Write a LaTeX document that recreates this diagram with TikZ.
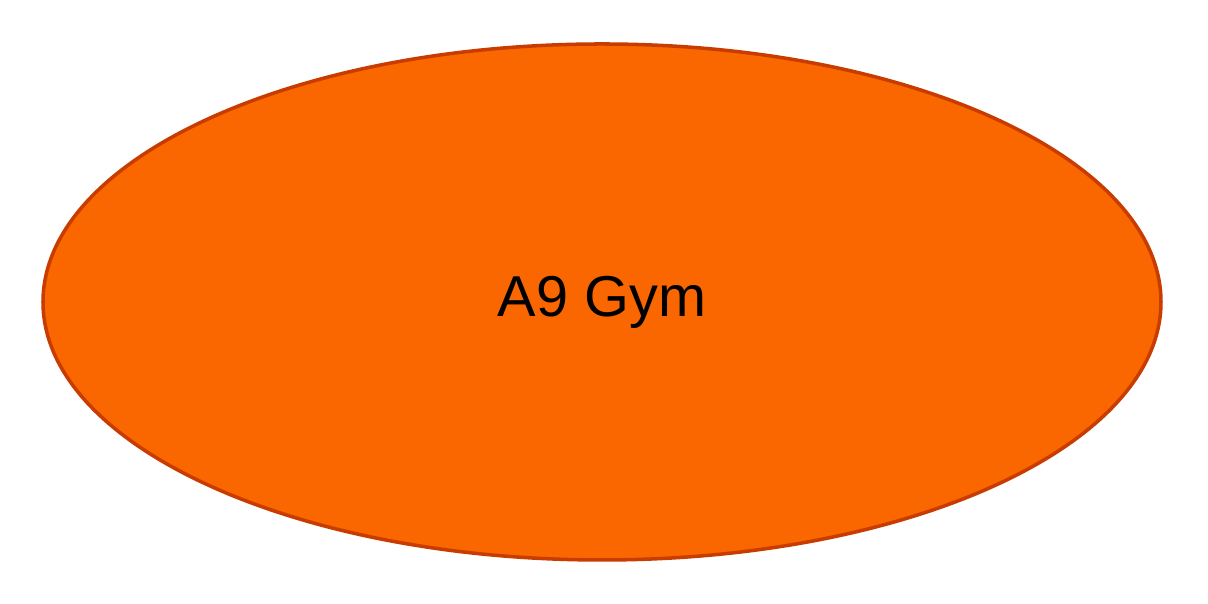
\documentclass[tikz,border=0pt]{standalone}
\usepackage{fontspec}
\setmainfont{Liberation Sans}
\usetikzlibrary{shapes.geometric}

\definecolor{gymorange}{RGB}{250,102,0}  % Fill of the ellipse
\definecolor{gymedge}{RGB}{200,60,0}     % Darker rim

\begin{document}
\begin{tikzpicture}[gym/.style={ellipse, draw=gymedge, fill=gymorange, line width=1pt, inner sep=0pt,
    minimum width=11.18cm, minimum height=5.16cm, font=\fontsize{16.4}{19}\selectfont}]

%─────────────
% Canvas
%─────────────
\useasboundingbox (0,0) rectangle (12.08,6.04);

%─────────────
% The one ellipse
%─────────────
\node[gym] (gym) at (6.02,3.02) {A9 Gym};

\end{tikzpicture}
\end{document}
